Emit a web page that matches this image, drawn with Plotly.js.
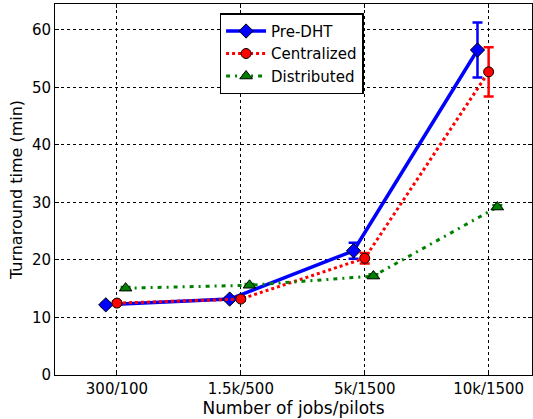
<!DOCTYPE html>
<html><head><meta charset="utf-8">
<script src="https://cdn.plot.ly/plotly-3.0.1.min.js"></script>
<style>body{margin:0;padding:0;background:#fff}#c{width:533px;height:419px}</style>
</head><body><div id="c"></div>
<script>
const categories = ["300/100", "1.5k/500", "5k/1500", "10k/1500"];
const preDHT = [12.2, 13.2, 21.6, 56.5];
const preDHTErr = [0.3, 0.3, 1.4, 4.8];
const centralized = [12.5, 13.2, 20.3, 52.7];
const centralizedErr = [0.3, 0.3, 0.9, 4.3];
const distributed = [15.1, 15.6, 17.2, 29.2];
const distributedErr = [0.2, 0.2, 0.3, 0.3];
const offsets = [-0.09, 0, 0.07];

const idx = categories.map((_, i) => i);
function xs(o){ return idx.map(i => i + o); }

const traces = [
  {name:"Pre-DHT", x: xs(offsets[0]), y: preDHT, mode:"lines+markers",
   line:{color:"#0000ff", width:3.5},
   marker:{symbol:"diamond", size:11, color:"#0000ff", line:{color:"#000", width:1}},
   error_y:{type:"data", array:preDHTErr, visible:true, color:"#0000ff", thickness:2.5, width:5}},
  {name:"Centralized", x: xs(offsets[1]), y: centralized, mode:"lines+markers",
   line:{color:"#ff0000", width:3, dash:"dot"},
   marker:{symbol:"circle", size:10, color:"#ff0000", line:{color:"#000", width:1}},
   error_y:{type:"data", array:centralizedErr, visible:true, color:"#ff0000", thickness:2.5, width:5}},
  {name:"Distributed", x: xs(offsets[2]), y: distributed, mode:"lines+markers",
   line:{color:"#008000", width:3, dash:"4px,5px,2px,5px"},
   marker:{symbol:"triangle-up", size:11, color:"#008000", line:{color:"#000", width:1}},
   error_y:{type:"data", array:distributedErr, visible:true, color:"#008000", thickness:2.5, width:5}}
];

const layout = {
  width:533, height:419,
  margin:{l:55, r:1, t:4, b:44},
  paper_bgcolor:"#fff", plot_bgcolor:"#fff",
  font:{family:"DejaVu Sans", size:15, color:"#000"},
  showlegend:true,
  legend:{x:0.345, y:0.975, xanchor:"left", yanchor:"top", bgcolor:"#fff",
          bordercolor:"#000", borderwidth:1.5, font:{size:15}, tracegroupgap:0,
          itemwidth:40},
  xaxis:{range:[-0.5, 3.35], tickvals:idx, ticktext:categories,
         showgrid:true, gridcolor:"#000", griddash:"dot", gridwidth:1,
         showline:true, linecolor:"#000", linewidth:1, mirror:"ticks",
         ticks:"inside", ticklen:4, tickcolor:"#000", zeroline:false,
         tickfont:{size:15},
         title:{text:"Number of jobs/pilots", font:{size:17}, standoff:1}},
  yaxis:{range:[0, 64.5], tickvals:[0,10,20,30,40,50,60],
         showgrid:true, gridcolor:"#000", griddash:"dot", gridwidth:1,
         showline:true, linecolor:"#000", linewidth:1, mirror:"ticks",
         ticks:"inside", ticklen:4, tickcolor:"#000", zeroline:false,
         tickfont:{size:15},
         title:{text:"Turnaround time (min)", font:{size:16}, standoff:5}}
};

Plotly.newPlot("c", traces, layout, {staticPlot:true, displayModeBar:false});
</script></body></html>
